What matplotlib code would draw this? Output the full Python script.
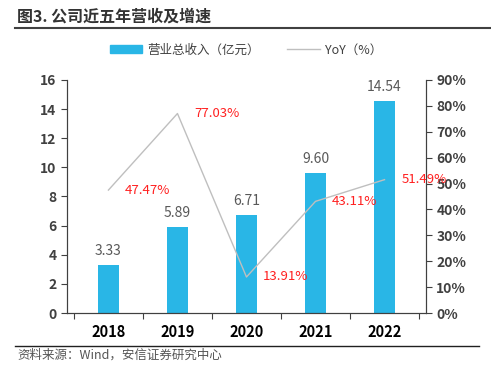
import matplotlib.pyplot as plt
import numpy as np
from matplotlib.lines import Line2D
from matplotlib.patches import Patch
from matplotlib.ticker import MultipleLocator, PercentFormatter

plt.rcParams['font.family'] = ['Noto Sans CJK SC', 'DejaVu Sans']

years = ['2018', '2019', '2020', '2021', '2022']
revenue = [3.33, 5.89, 6.71, 9.60, 14.54]
yoy = [47.47, 77.03, 13.91, 43.11, 51.49]

bar_color = '#29B6E6'
line_color = '#BFBFBF'
text_color = '#404040'

fig = plt.figure(figsize=(4.91, 3.70), dpi=100)
ax = fig.add_axes([0.1365, 0.154, 0.731, 0.63])
ax2 = ax.twinx()

x = np.arange(len(years))
ax.bar(x, revenue, width=0.3, color=bar_color, zorder=2)
for xi, v in zip(x, revenue):
    ax.annotate(f'{v:.2f}', (xi, v), xytext=(0, 5), textcoords='offset points',
                ha='center', va='bottom', fontsize=10, color='#595959')

ax2.plot(x, yoy, color=line_color, linewidth=1.0, zorder=3)
for xi, v in zip(x, yoy):
    ax2.annotate(f'{v:.2f}%', (xi, v), xytext=(12, 0), textcoords='offset points',
                 ha='left', va='center', fontsize=9.5, color='#FF2020')

ax.set_xlim(-0.6, 4.6)
ax.set_ylim(0, 16)
ax.yaxis.set_major_locator(MultipleLocator(2))
ax2.set_ylim(0, 90)
ax2.yaxis.set_major_locator(MultipleLocator(10))
ax2.yaxis.set_major_formatter(PercentFormatter(decimals=0))

ax.set_xticks(np.arange(-0.5, 5, 1))
ax.set_xticklabels([])
ax.set_xticks(x, minor=True)
ax.set_xticklabels(years, minor=True)
ax.tick_params(axis='x', which='minor', length=0, pad=8)
ax.tick_params(axis='x', which='major', length=4, direction='out', color='#404040')

for a in (ax, ax2):
    a.spines['top'].set_visible(False)
    for s in ('left', 'right', 'bottom'):
        a.spines[s].set_color('#404040')
    a.tick_params(labelsize=10, labelcolor=text_color, color='#404040', length=4)
ax.tick_params(axis='x', which='minor', labelsize=10.5)
for lab in ax.get_xticklabels(minor=True) + ax.get_yticklabels() + ax2.get_yticklabels():
    lab.set_fontweight('bold')

handles = [Patch(color=bar_color), Line2D([0], [0], color=line_color, lw=1)]
fig.legend(handles, ['营业总收入（亿元）', 'YoY（%）'], loc='center',
           bbox_to_anchor=(0.501, 0.865), ncol=2, frameon=False, fontsize=9,
           handlelength=2.6, handleheight=0.5, handletextpad=0.4,
           columnspacing=2.2, labelcolor=text_color)

fig.text(0.035, 0.955, '图3. 公司近五年营收及增速', fontsize=11.5, fontweight='bold',
         color='#333333', va='center')
fig.add_artist(Line2D([0.03, 1.0], [0.923, 0.923], color='#404040', lw=1.5))
fig.add_artist(Line2D([0.03, 0.975], [0.065, 0.065], color='#202020', lw=1))
fig.text(0.035, 0.04, '资料来源：Wind，安信证券研究中心', fontsize=9, style='italic',
         color='#555555', va='center')

fig.savefig('out.png', dpi=100)
